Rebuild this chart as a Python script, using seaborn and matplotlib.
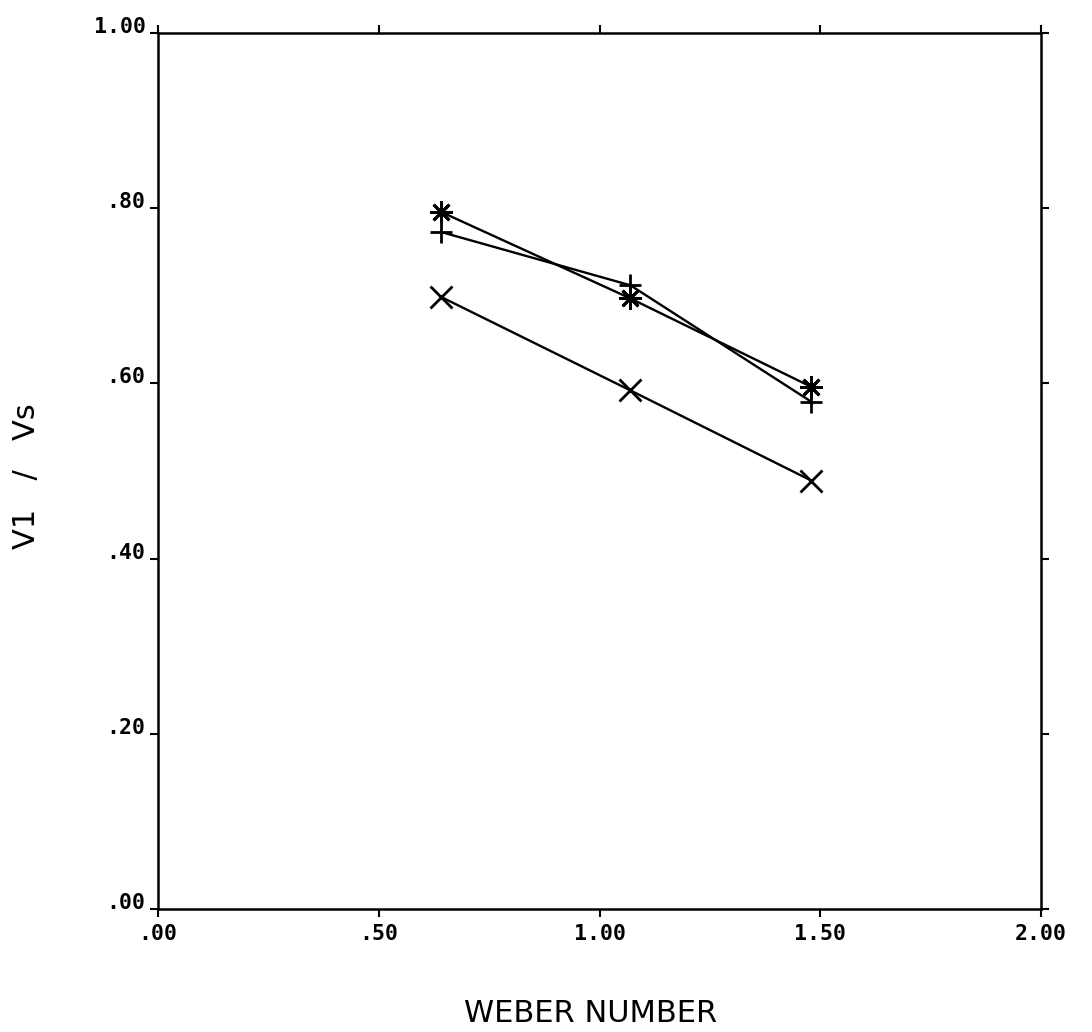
import matplotlib
matplotlib.use("Agg")
import matplotlib.pyplot as plt
import seaborn as sns
import pandas as pd

# Weber number values where each series was measured
weber = [0.64, 1.07, 1.48]

# V1 / Vs ratios for the three series
ratio_star = [0.796, 0.697, 0.596]
ratio_plus = [0.773, 0.712, 0.579]
ratio_cross = [0.699, 0.592, 0.489]

series_names = ["star", "plus", "cross"]
series_markers = [(8, 2, 0), "+", "x"]

x_ticks = [0.0, 0.5, 1.0, 1.5, 2.0]
x_tick_labels = [".00", ".50", "1.00", "1.50", "2.00"]
y_ticks = [0.0, 0.2, 0.4, 0.6, 0.8, 1.0]
y_tick_labels = [".00", ".20", ".40", ".60", ".80", "1.00"]

df = pd.DataFrame({
    "weber": weber * 3,
    "ratio": ratio_star + ratio_plus + ratio_cross,
    "series": [n for n in series_names for _ in weber],
})

sns.set_style("ticks")
plt.rcParams["font.family"] = ["DejaVu Sans"]
plt.rcParams["text.color"] = "black"
plt.rcParams["xtick.color"] = "black"
plt.rcParams["ytick.color"] = "black"

fig = plt.figure(figsize=(10.92, 10.32), dpi=100)
ax = fig.add_axes([158 / 1092, 1 - 909 / 1032, (1041 - 158) / 1092, (909 - 33) / 1032])

sns.lineplot(
    data=df, x="weber", y="ratio", style="series",
    markers=series_markers, dashes=False, color="black",
    markersize=16, markeredgecolor="black", markeredgewidth=2.0,
    linewidth=1.7, legend=False, ax=ax,
)

ax.set_xlim(0, 2.0)
ax.set_ylim(0, 1.0)

for side in ["left", "right", "top", "bottom"]:
    ax.spines[side].set_visible(True)
    ax.spines[side].set_linewidth(1.8)
    ax.spines[side].set_color("black")

tick_font = dict(family="DejaVu Sans Mono", fontsize=15.5, fontweight="bold", color="black")
ax.set_xticks(x_ticks)
ax.set_xticklabels(x_tick_labels, **tick_font)
ax.set_yticks(y_ticks)
ax.set_yticklabels(y_tick_labels, **tick_font)
for lbl in ax.get_yticklabels():
    lbl.set_va("baseline")

ax.tick_params(axis="both", which="both", direction="out", length=6, width=1.5,
               color="black", labelcolor="black",
               top=True, right=True, labeltop=False, labelright=False)
ax.tick_params(axis="x", pad=5)
ax.tick_params(axis="y", pad=3)

ax.set_xlabel("")
ax.set_ylabel("")
fig.text(591 / 1092, 1 - 1013 / 1032, "WEBER NUMBER", ha="center", va="center",
         fontsize=22, color="black")
fig.text(27 / 1092, 1 - 476 / 1032, "V1   /   Vs", ha="center", va="center",
         rotation=90, fontsize=22, color="black")

fig.savefig("out.png", dpi=100, facecolor="white")
